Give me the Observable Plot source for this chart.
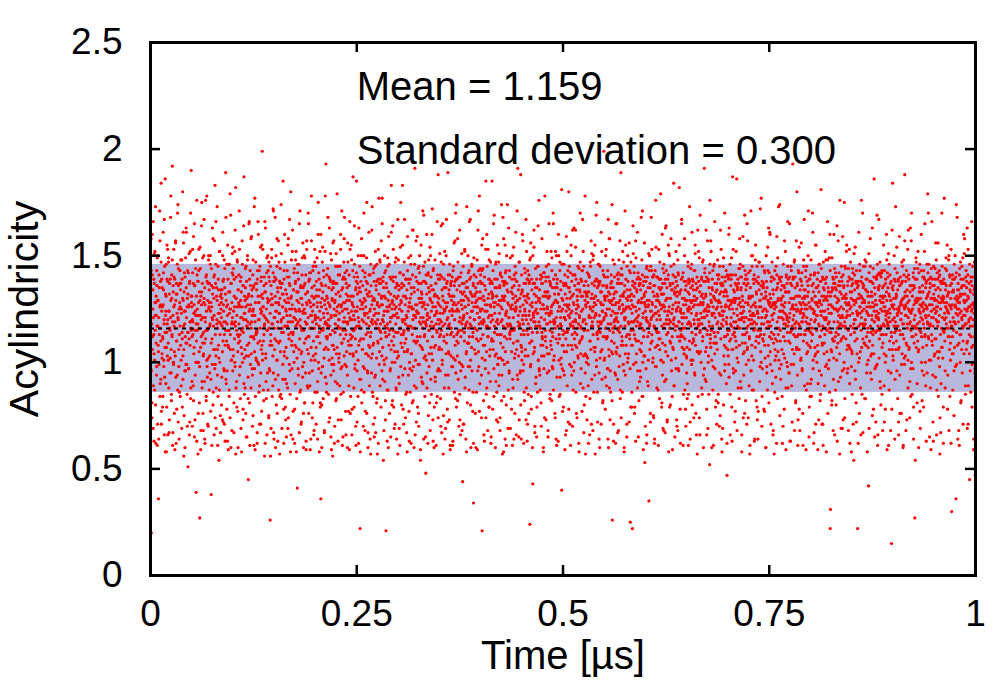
<!DOCTYPE html>
<html><head><meta charset="utf-8">
<script src="https://cdn.jsdelivr.net/npm/d3@7"></script>
<script src="https://cdn.jsdelivr.net/npm/@observablehq/plot@0.6"></script>
<style>body{margin:0;background:#fff}</style>
</head><body><div id="chart"></div>
<script>
// Acylindricity samples (x100), two interleaved runs read across the picture in time order
const runARaw = `
132 97 158 20 118 74 141 106 125 166 89 113 63 137 101 152 122 80 128 109
94 143 117 61 129 150 108 36 121 99 135 171 84 116 127 92 147 71 139 104
126 79 111 161 134 98 118 66 145 107 186 122 90 131 58 114 155 103 138 120
109 149 88 124 73 137 115 102 168 129 95 82 141 112 192 119 67 133 100 153
140 105 127 59 116 157 93 132 110 78 123 146 87 174 120 136 98 64 113 128
117 84 134 148 101 125 69 139 111 180 92 129 156 106 75 142 118 60 124 96
99 163 121 109 85 130 143 51 114 126 97 151 137 72 108 119 170 88 131 115
131 112 70 142 119 89 159 104 127 65 136 115 94 148 122 39 110 176 100 125
122 57 138 100 153 116 81 27 129 144 107 68 120 164 133 91 113 149 76 103
104 128 167 91 135 62 119 111 140 82 124 178 98 115 71 137 102 150 126 87
137 95 118 150 77 128 109 144 61 121 99 132 158 86 117 130 66 141 106 183
113 146 103 69 131 120 173 94 116 84 139 108 54 127 152 100 123 75 134 118
128 80 130 117 105 161 138 72 124 97 148 113 135 63 119 189 92 129 110 78
96 122 155 108 59 133 115 87 146 125 74 106 169 137 101 118 68 142 121 154
141 103 124 67 139 111 152 98 119 182 88 130 115 79 126 147 105 60 134 112
118 171 94 126 113 83 129 140 107 58 121 157 100 136 73 114 164 90 123 131
106 129 144 76 120 103 138 65 117 150 127 93 45 132 109 166 81 125 143 99
127 88 116 159 131 97 70 124 148 112 135 61 122 105 177 119 84 137 102 114
134 114 62 139 100 166 120 128 86 143 71 110 131 154 95 123 140 77 108 199
101 153 126 110 82 136 117 56 133 121 163 104 91 125 142 66 115 130 150 87
119 75 140 97 129 108 26 145 113 69 132 149 118 84 127 103 172 95 138 64
138 106 121 168 92 124 139 80 110 158 101 135 63 116 128 87 147 123 57 130
110 137 85 119 151 114 69 132 126 99 185 121 78 143 105 160 117 92 134 73
124 65 132 102 140 88 155 119 74 128 111 137 167 96 122 58 130 114 148 108
97 127 162 113 77 134 121 100 144 62 125 90 138 117 152 107 83 129 41 142
133 119 94 146 125 67 111 171 120 87 136 104 72 130 115 149 98 124 135 60
115 150 109 81 137 123 95 141 59 118 157 127 106 133 88 121 165 76 112 139
142 89 128 122 64 107 178 116 131 96 124 81 145 110 127 68 136 153 101 120
104 131 71 138 112 149 126 91 121 175 100 142 117 58 134 109 79 128 160 95
126 60 136 98 154 115 83 123 140 106 67 129 152 93 119 193 112 86 131 118
112 144 117 128 85 135 101 163 74 126 113 138 65 121 148 99 130 108 56 137
135 96 157 106 122 70 129 118 137 82 151 104 124 179 90 116 63 141 120 102
120 123 89 145 113 160 97 73 127 134 109 61 139 115 86 128 147 103 168 125
99 139 115 66 132 105 143 125 94 156 119 131 77 108 136 59 121 153 113 84
131 108 148 120 78 127 115 187 103 122 88 140 164 97 124 111 70 135 105 142
117 72 126 137 101 150 62 119 133 110 145 22 125 92 138 116 158 81 128 106
143 125 98 111 170 86 123 140 68 129 104 134 118 149 76 132 96 114 60 121
108 161 133 89 124 141 112 57 136 119 95 127 173 104 118 84 142 109 130 65
125 93 119 152 67 116 134 102 146 83 128 110 139 62 123 177 99 137 115 147
139 114 79 127 130 96 165 120 107 138 54 122 101 131 150 91 117 73 143 112
102 135 124 63 118 145 87 129 159 113 126 76 140 119 97 132 106 183 121 80
128 82 140 115 153 108 127 69 122 100 147 135 114 88 126 64 137 121 105 167
114 148 103 134 90 125 61 142 116 175 109 128 80 137 120 155 94 113 131 71
136 105 167 97 127 74 139 111 130 86 121 58 143 106 124 115 149 77 128 100
97 130 117 146 62 132 104 125 81 141 116 162 98 122 135 89 110 191 66 127
121 157 88 124 138 112 79 134 99 123 70 145 119 150 108 130 59 118 137 93
130 91 126 106 171 119 145 64 127 112 138 84 103 125 48 141 117 160 95 122
110 127 142 75 115 98 133 121 154 68 129 107 140 85 119 134 172 101 126 63
144 116 60 131 122 148 91 108 137 118 81 124 114 166 96 128 74 139 106 127
107 139 120 96 83 126 164 115 67 140 101 131 123 57 146 112 135 88 152 118
125 69 135 150 109 137 113 78 128 189 94 117 132 104 73 124 141 61 116 136
116 129 98 122 140 61 124 143 102 131 156 86 120 138 108 170 95 127 79 113
134 103 158 114 92 128 70 119 136 85 121 140 66 112 129 99 151 118 137 44
98 145 121 71 133 110 152 126 93 117 64 135 105 173 123 81 130 109 142 116
129 87 112 139 118 167 101 60 132 124 146 96 131 77 114 137 62 149 120 106
120 132 76 128 104 140 86 133 115 59 126 162 110 143 98 121 178 90 125 138
141 111 137 94 155 21 125 118 144 108 82 129 119 63 136 101 127 153 74 117
105 160 124 117 68 130 112 139 79 148 122 103 137 91 126 119 65 133 111 185
132 78 143 106 128 97 169 114 123 135 60 116 147 104 131 86 139 120 99 72
118 127 89 151 113 136 74 141 102 119 129 174 94 125 57 138 107 130 158 84
137 99 131 64 142 116 123 80 150 111 134 100 128 69 117 163 121 96 140 113
111 149 115 125 83 105 139 127 61 132 88 121 154 115 136 102 76 145 124 131
126 66 138 110 171 129 92 119 134 103 147 73 117 130 95 126 188 108 64 141
101 134 120 157 96 118 62 137 113 82 125 142 106 122 167 88 131 115 139 71
143 113 85 130 122 138 109 24 127 149 99 116 78 139 110 128 60 150 104 123
119 162 105 137 70 124 144 117 93 131 65 135 114 86 123 145 101 129 176 97
130 94 128 116 141 81 121 103 158 112 137 108 127 58 142 97 125 74 133 115
112 138 73 145 107 133 95 125 118 68 140 123 165 104 131 83 119 137 110 152
123 106 149 98 127 112 170 87 139 120 103 132 76 116 152 129 64 121 135 93
135 128 117 63 132 150 101 126 111 143 85 118 134 99 124 40 146 108 77 129
108 79 136 121 94 127 141 114 66 137 124 159 105 130 89 115 140 72 122 180
127 145 99 133 118 61 123 155 108 94 131 113 70 141 117 128 96 163 111 136
114 120 162 86 139 125 107 74 129 116 145 102 126 137 58 122 134 110 147 90
139 97 124 111 77 143 131 119 152 103 67 136 115 120 178 95 127 84 118 132
103 131 142 128 115 89 62 133 121 140 110 83 147 125 106 130 71 151 137 117
124 68 113 150 130 107 136 94 138 57 122 127 169 101 139 114 86 119 129 146
117 146 95 122 60 138 114 128 105 161 133 119 92 124 81 143 112 136 199 101
131 102 130 78 123 116 153 111 135 125 97 143 64 118 133 106 158 88 115 73
96 135 118 141 105 129 82 26 124 148 114 71 130 109 140 120 95 127 62 165
128 121 165 107 137 92 119 142 68 116 125 137 103 157 87 131 117 74 144 112
110 86 127 132 99 147 124 60 133 120 171 94 121 139 108 126 65 134 113 150
138 126 104 118 156 113 131 97 142 79 115 129 108 86 123 22 136 119 151 99
119 142 76 135 111 126 63 149 117 104 134 121 161 96 128 140 110 82 125 137
106 118 137 93 128 168 109 130 84 141 100 123 59 138 115 132 156 103 127 70
133 97 121 144 66 119 140 112 126 89 151 35 129 117 106 135 72 145 120 124
121 153 110 127 140 102 75 136 117 131 62 116 143 107 176 123 98 129 88 114
140 108 129 61 114 135 122 83 147 111 127 139 101 132 79 117 160 94 137 126
100 132 146 118 91 124 67 139 105 164 120 113 135 72 130 103 124 141 58 151
126 79 116 137 130 109 158 123 96 134 84 125 107 141 118 184 89 121 132 65
115 140 102 152 124 73 131 117 136 68 142 97 128 119 155 110 133 78 112 125
134 123 167 99 118 140 112 61 127 121 106 138 150 87 116 129 70 136 103 95
107 90 125 133 145 85 137 126 110 173 129 64 118 135 101 123 146 114 80 139
129 138 111 74 120 131 95 143 155 108 76 122 134 116 130 57 127 162 105 117
118 104 149 127 66 115 136 123 100 131 140 118 85 147 112 128 94 138 121 191
142 116 92 138 131 162 107 78 122 113 126 69 139 103 124 135 117 52 146 109
111 157 129 115 101 123 139 134 87 126 61 145 114 130 166 97 121 109 133 82
125 71 134 106 148 119 85 128 141 116 95 132 122 75 137 111 153 126 64 140
137 122 117 145 80 133 124 108 170 99 138 112 127 143 90 118 62 131 115 106
103 139 160 93 125 110 141 66 118 136 121 149 79 106 129 187 113 97 134 123
130 114 72 129 137 96 119 152 107 125 68 134 117 139 100 127 144 83 120 158
116 146 123 134 88 140 58 121 131 113 159 104 126 94 137 121 76 143 109 128
141 99 136 114 165 106 128 117 74 142 130 89 111 124 61 135 118 171 96 120
108 131 87 150 122 127 101 137 119 63 116 139 107 155 126 82 132 112 145 73
123 64 140 121 109 134 147 91 129 115 105 126 177 118 70 138 97 124 136 110
135 118 113 77 142 102 125 133 60 150 122 98 135 87 119 143 108 163 81 127
112 161 128 105 130 71 138 114 126 96 140 120 66 132 109 123 57 127 143 101
128 93 145 126 116 159 110 83 137 129 113 173 101 121 139 75 124 115 92 134
99 127 106 136 62 124 131 146 104 118 78 135 123 110 152 133 88 140 117 121
137 114 166 88 133 119 95 128 121 140 109 63 130 145 99 115 136 72 126 193
120 140 99 122 147 68 118 135 112 81 127 157 106 124 137 94 61 131 113 142
106 78 131 117 124 139 113 102 156 125 136 97 119 76 128 110 145 122 167 89
131 125 115 143 59 127 104 121 138 90 118 150 133 108 65 139 116 126 84 107
114 148 84 110 130 116 170 125 97 133 62 123 141 119 103 128 155 71 135 122
127 100 139 128 105 90 136 73 146 117 129 112 82 138 124 181 94 115 131 108
140 117 61 135 121 131 109 124 113 152 98 137 120 58 140 105 129 148 76 118
97 133 123 149 86 114 143 31 127 106 123 80 149 126 111 134 68 139 102 160
125 66 137 112 142 125 80 134 101 164 116 130 109 136 91 122 142 117 57 133
118 121 110 69 132 140 122 96 159 117 73 125 135 100 175 119 83 130 144 111
132 152 127 124 95 108 138 115 68 128 140 107 122 62 133 147 113 126 98 136
104 85 144 137 116 129 54 127 120 141 110 154 92 128 116 72 137 104 123 22
123 138 100 161 130 76 126 143 105 118 66 131 121 140 85 128 170 111 135 117
136 109 129 83 145 118 134 108 147 124 95 139 58 114 131 107 122 151 69 126
110 126 158 117 103 138 92 122 131 75 128 113 144 126 104 186 119 65 132 140
129 72 121 140 124 99 146 61 117 135 120 167 102 136 115 91 141 125 80 113
117 142 107 131 68 130 113 155 126 89 143 117 124 78 139 122 103 133 148 59
142 118 135 96 151 121 87 131 110 123 137 68 129 114 15 127 162 106 120 134
101 130 117 125 139 64 144 119 173 106 115 131 96 142 122 83 117 138 72 124
126 159 94 136 113 127 120 76 137 129 104 145 118 130 61 148 111 126 99 188
133 103 127 68 122 140 108 134 116 153 88 121 141 106 129 118 74 133 163 97
115 124 170 112 85 131 125 97 142 64 127 109 135 27 122 139 116 149 107 128
139 90 118 144 129 105 60 125 133 119 146 77 123 130 114 160 100 127 82 136
107 133 124 79 140 116 152 112 127 100 135 121 63 138 126 95 131 118 142 170
122 146 101 127 117 135 88 140 59 124 113 166 130 108 136 72 121 145 125 103
130 111 139 93 156 120 126 66 129 142 105 117 135 84 119 128 143 98 57 138
113 67 128 130 107 138 145 121 102 131 79 139 115 177 123 110 88 134 126 149
136 128 116 155 124 94 112 133 148 68 127 106 140 119 101 130 62 125 137 117
104 141 87 121 133 115 75 139 119 126 150 98 126 36 142 114 129 168 108 122
128 119 134 109 61 144 123 100 131 113 82 135 121 145 95 132 117 71 139 160
117 136 158 125 118 85 129 143 106 138 124 69 110 131 153 89 126 120 104 45
134 96 121 140 112 127 166 79 125 117 140 108 132 64 123 147 135 97 118 129
`;
const runBRaw = `
27 118 143 96 125 81 160 112 134 69 121 139 104 151 87 128 115 173 62 131
122 98 136 149 71 117 129 105 64 141 113 126 157 90 138 110 184 77 124 102
135 112 84 127 142 101 120 167 93 114 58 132 124 146 107 79 139 118 153 66
101 147 124 67 132 116 95 139 121 178 106 85 130 113 148 61 122 136 99 126
117 76 139 119 103 156 129 62 137 110 132 94 170 121 72 144 106 125 86 137
143 126 108 137 89 123 148 114 79 130 103 161 117 56 133 124 96 140 112 149
109 135 161 99 126 70 114 132 142 97 127 111 66 138 119 152 83 116 190 128
126 91 120 153 113 137 82 123 107 165 136 73 124 144 100 118 131 63 141 115
138 118 76 128 143 105 133 98 154 122 59 131 112 127 175 88 137 109 121 68
114 150 130 109 64 127 121 176 115 84 141 101 138 93 129 116 70 148 125 134
128 103 117 146 124 92 38 136 126 111 163 120 80 135 106 140 122 157 97 74
99 137 166 88 135 118 129 106 61 145 123 134 102 119 87 152 113 131 67 125
132 121 93 134 73 150 110 127 139 119 96 71 144 108 132 115 168 90 126 146
118 63 127 139 115 107 146 84 123 133 179 113 125 60 137 101 128 119 151 96
106 144 118 81 131 126 100 162 117 57 130 140 91 122 148 113 77 134 109 128
141 127 153 110 98 138 121 69 133 115 104 126 146 116 78 136 120 187 102 85
123 88 135 126 145 65 117 130 108 148 119 83 131 103 165 124 139 61 118 136
112 158 104 119 134 122 94 141 75 125 136 111 173 97 122 59 128 147 113 101
137 115 67 143 109 131 160 99 128 120 89 145 116 125 71 138 106 124 155 132
104 130 126 87 122 113 140 118 166 62 133 102 137 83 120 149 115 95 128 143
129 74 147 116 138 96 123 56 110 136 127 153 108 130 118 89 142 171 67 121
116 140 111 131 60 128 150 124 101 145 76 119 133 94 157 109 127 123 138 84
144 105 135 174 120 83 116 137 126 92 132 114 62 139 103 129 147 117 79 125
107 128 90 122 143 117 69 130 158 113 140 99 125 136 85 119 180 66 131 110
125 152 119 64 114 134 105 142 121 78 108 137 148 120 124 58 133 102 118 146
133 97 139 128 106 165 124 86 117 135 130 71 116 105 141 127 93 156 123 76
100 136 125 81 149 119 132 111 63 128 153 118 89 133 112 170 104 138 129 95
139 116 59 142 126 101 157 122 135 74 119 143 103 127 66 130 116 147 86 122
121 145 107 118 134 86 128 64 112 160 131 97 139 114 124 152 81 120 36 137
115 80 130 147 98 133 116 143 121 102 68 127 118 178 136 107 125 90 141 111
130 123 168 106 120 72 140 117 127 139 113 151 94 122 59 134 102 129 115 156
108 138 99 125 62 128 114 91 145 122 132 83 137 107 126 145 117 73 133 100
127 104 141 131 116 153 85 126 109 171 98 124 135 65 119 140 111 158 121 128
142 119 77 113 137 98 129 135 60 118 147 110 123 89 141 129 166 104 76 120
111 155 124 66 128 112 143 104 131 126 115 79 146 120 99 116 134 61 138 185
124 96 132 140 84 121 108 163 117 135 92 129 58 133 111 150 87 127 120 106
136 128 70 119 150 130 97 122 142 77 126 113 138 104 175 123 137 95 67 131
103 141 117 133 107 64 125 146 114 102 131 162 120 86 129 108 71 144 122 138
129 74 145 94 123 136 118 81 138 127 57 120 109 153 116 132 126 105 148 89
118 137 111 157 131 103 177 127 92 140 119 135 68 124 99 142 114 82 130 21
137 112 126 87 116 149 124 60 133 108 146 115 127 96 121 65 139 161 110 125
100 129 164 122 138 79 112 131 105 125 71 140 118 149 87 130 123 102 136 57
131 121 93 136 69 127 142 116 154 98 129 113 135 124 107 183 119 78 141 114
115 147 120 109 131 118 85 139 122 67 134 105 159 117 139 94 126 137 63 128
126 86 139 150 104 135 126 96 113 162 120 82 125 110 60 133 146 116 122 101
140 109 72 124 127 159 110 123 144 76 137 130 99 142 128 112 54 121 155 133
107 132 128 116 90 121 138 169 102 128 113 147 119 65 118 137 101 132 88 120
123 62 141 135 148 104 115 81 130 117 150 92 136 124 104 160 128 112 73 143
134 117 107 79 122 132 93 126 137 61 123 115 131 84 141 120 188 97 130 118
112 151 123 141 113 70 147 119 106 134 99 165 117 129 75 125 110 139 124 64
128 94 135 104 167 126 120 138 72 121 141 105 88 134 118 146 131 59 113 137
103 138 114 125 131 98 63 127 145 112 128 136 120 157 101 83 124 139 174 110
139 125 82 147 109 140 124 115 100 162 73 119 133 96 142 127 115 68 125 132
120 71 129 122 137 114 153 88 126 131 118 104 58 138 119 109 135 150 98 127
109 143 166 98 121 133 80 140 117 107 145 128 124 112 86 136 34 126 141 116
131 116 104 135 60 126 111 129 148 123 96 137 171 105 130 118 77 121 133 144
124 130 119 74 143 102 137 158 113 131 120 66 129 140 108 124 97 134 185 85
116 88 145 127 112 153 121 95 132 79 139 116 106 127 147 62 138 110 122 130
137 120 131 110 165 84 126 117 139 103 128 146 91 119 73 135 113 155 127 99
102 147 94 129 123 135 68 142 109 126 113 82 140 120 131 101 168 117 58 136
129 112 138 155 105 122 143 61 124 137 118 174 100 133 87 127 121 95 143 114
118 69 126 117 133 78 115 135 150 92 130 109 125 64 141 116 139 104 128 161
142 125 106 138 94 129 191 110 122 117 65 136 147 118 124 96 80 132 113 107
105 133 160 122 127 115 99 131 86 144 124 103 129 137 73 120 152 128 63 139
132 103 118 76 141 137 124 148 116 98 156 120 84 110 134 126 114 43 137 122
121 154 132 107 67 119 135 90 128 125 139 79 123 145 117 164 101 130 119 96
134 117 87 139 125 108 70 137 114 140 111 127 131 60 125 103 142 120 178 131
110 140 123 131 118 152 126 104 133 65 130 146 96 122 138 115 85 136 108 124
126 82 143 114 135 97 119 165 101 128 118 135 119 74 141 129 111 150 61 137
139 128 109 124 160 132 113 84 126 147 93 121 138 102 117 181 130 97 125 115
113 96 137 146 105 121 59 132 120 111 136 68 127 152 114 126 143 108 135 78
125 135 121 71 130 142 117 150 98 138 124 106 162 119 87 132 116 127 100 141
141 108 154 119 123 76 134 113 131 127 103 137 118 62 144 109 121 133 170 117
104 131 116 138 143 112 167 125 88 120 145 115 80 133 129 104 57 138 126 100
131 73 133 102 128 136 99 141 122 140 66 126 110 145 121 157 117 92 132 119
117 148 126 130 86 121 128 105 155 107 131 123 139 98 175 113 135 72 111 138
136 115 64 137 119 102 145 133 118 71 127 152 106 124 136 82 127 141 120 121
112 140 129 93 150 116 122 89 136 131 112 140 97 167 60 129 103 125 158 132
128 86 137 122 110 138 174 127 104 116 135 63 132 119 146 117 123 133 94 105
120 133 104 141 123 67 115 139 128 148 98 126 114 129 83 141 189 108 123 137
141 127 152 108 131 125 96 58 121 136 117 104 155 125 112 130 71 145 100 129
102 119 131 126 72 143 111 134 25 125 147 119 132 79 127 108 138 164 115 126
131 145 113 79 137 120 157 100 124 110 133 139 88 119 142 65 122 129 136 91
117 96 139 134 118 105 128 148 116 171 84 121 136 112 103 131 128 53 140 124
126 138 120 62 145 129 91 119 135 101 127 114 143 150 118 137 76 124 109 168
143 113 128 140 100 133 122 74 141 117 64 136 123 98 126 154 115 140 120 132
108 131 87 124 153 111 139 128 106 134 120 179 101 125 135 81 132 109 144 69
127 68 142 116 126 137 108 163 129 92 143 118 130 73 122 139 114 155 124 118
120 150 110 136 80 119 145 101 123 134 112 59 137 127 106 120 146 89 133 140
135 117 128 97 138 125 70 133 112 148 126 141 96 119 182 132 110 124 62 115
113 139 165 121 107 130 116 142 85 123 104 130 158 111 134 78 127 138 121 102
129 83 118 147 124 61 139 119 132 106 138 72 125 144 117 128 99 161 109 136
101 126 134 110 143 118 127 94 151 129 113 137 66 123 140 105 135 120 84 152
138 120 74 133 114 169 105 128 118 139 88 121 132 110 127 148 60 130 124 97
121 144 125 105 132 91 140 66 124 115 157 127 100 138 85 119 126 142 176 113
132 107 152 128 60 135 122 117 143 98 131 109 123 146 104 137 112 79 129 125
109 137 118 141 126 114 81 139 129 123 70 145 116 128 162 94 133 118 136 58
124 69 136 120 149 103 131 112 96 140 126 134 107 119 133 121 47 141 113 129
140 126 99 163 115 129 146 85 127 111 139 117 128 63 141 125 106 153 95 119
116 133 128 112 77 141 110 130 136 186 102 122 135 116 88 137 120 130 108 144
128 91 140 126 135 120 66 123 109 129 145 74 124 137 119 105 169 113 139 82
134 121 116 71 139 107 157 137 127 101 120 131 112 57 130 143 122 96 126 150
103 145 131 118 123 139 87 115 141 122 64 128 148 126 110 133 118 138 79 124
123 115 77 137 147 112 126 129 98 172 113 136 100 132 121 84 145 111 135 130
137 78 125 143 108 130 121 60 131 116 138 95 124 119 154 129 103 128 117 142
119 132 160 99 126 117 140 111 122 147 90 127 134 68 128 113 139 125 86 106
111 128 103 134 62 141 119 135 149 105 130 121 116 140 97 174 124 110 138 129
130 140 121 84 127 124 70 120 112 136 126 157 102 128 118 133 59 141 122 100
120 98 145 117 139 110 133 95 165 123 63 114 137 125 143 89 130 117 106 127
139 125 113 130 104 148 125 140 116 82 131 119 107 180 112 136 125 73 143 118
106 154 128 68 134 123 101 127 138 119 142 96 130 121 61 123 148 134 113 130
127 113 134 140 119 87 145 109 125 131 105 136 171 115 128 79 118 139 126 90
141 120 92 125 136 129 113 161 101 137 123 67 124 142 107 131 120 104 155 128
115 135 122 108 59 142 126 118 133 96 146 128 112 85 138 122 144 127 71 109
124 71 139 147 129 104 134 89 120 139 116 130 148 121 99 115 131 166 125 135
133 127 101 119 116 160 22 131 123 114 133 105 82 135 126 140 110 92 137 119
110 144 131 135 87 125 114 140 107 128 63 124 119 157 113 129 125 138 104 176
136 93 118 126 145 111 138 69 130 121 141 112 136 97 131 74 145 117 128 116
121 130 155 106 122 136 97 127 144 108 127 153 90 125 139 117 106 130 58 133
105 139 123 142 71 129 118 151 114 134 96 120 129 138 81 143 124 111 135 122
130 62 136 117 132 102 146 123 126 88 138 115 176 107 124 130 137 67 118 145
125 117 109 128 148 120 83 134 139 112 126 99 123 133 116 101 42 128 142 110
138 131 145 95 114 126 133 104 120 163 108 137 115 78 140 124 119 135 97 127
114 98 122 139 127 169 115 141 66 121 134 123 142 111 129 147 131 88 116 140
128 143 85 124 135 109 128 118 136 104 72 131 126 100 137 120 113 160 129 123
119 124 140 117 61 132 146 106 125 141 119 129 95 138 112 78 135 126 184 103
136 109 127 150 121 114 92 138 130 117 132 110 154 125 123 134 106 139 66 125
107 136 115 76 140 128 120 123 99 147 127 138 113 60 130 118 141 102 125 157
131 122 138 126 109 143 73 131 118 128 101 162 125 139 107 124 91 136 119 84
123 157 100 136 125 117 134 112 140 79 136 120 144 117 129 54 128 113 147 130
116 81 129 110 152 130 106 142 124 135 115 127 69 133 121 143 112 126 96 120
140 128 118 143 94 125 139 165 113 122 89 137 130 108 146 125 119 179 132 112
111 139 133 65 127 137 118 101 130 144 121 110 127 139 94 117 63 132 125 136
129 104 144 123 134 111 148 124 87 119 139 126 156 102 131 140 122 105 141 74
134 125 90 137 116 170 107 129 137 115 62 130 114 128 120 137 96 144 126 121
118 143 125 131 78 124 132 116 123 150 112 141 84 136 109 126 153 117 30 133
127 112 139 104 134 119 96 146 107 130 127 118 140 123 174 99 131 125 134 64
137 130 68 125 141 128 113 132 147 81 139 124 106 120 136 116 149 110 122 129
104 151 128 132 122 89 140 118 129 135 109 163 125 141 71 130 119 137 113 146
126 117 133 86 138 124 107 136 99 127 145 120 128 59 134 112 126 95 47 140
`;
const parseRun = raw => raw.trim().split(/\s+/).map(v => +v / 100);
const runA = parseRun(runARaw);
const runB = parseRun(runBRaw);

// time axis: each run spans 0 .. 1 µs in order
const timeStart = 0;
const timeEnd = 1;
const toSamples = run => run.map((a, i) => ({
  time: timeStart + (timeEnd - timeStart) * i / (run.length - 1),
  a
}));
const samples = toSamples(runA).concat(toSamples(runB));

const meanValue = 1.159;
const stdValue = 0.300;
const band = [{t1: timeStart, t2: timeEnd, lo: meanValue - stdValue, hi: meanValue + stdValue}];

const xTicks = [0, 0.25, 0.5, 0.75, 1];
const yTicks = [0, 0.5, 1, 1.5, 2, 2.5];
const annotationTexts = [`Mean = ${meanValue.toFixed(3)}`, `Standard deviation = ${stdValue.toFixed(3)}`];
const annotationTime = [0.25, 0.25];
const annotationLevel = [2.29, 1.99];
const annotations = annotationTexts.map((text, i) => ({text, t: annotationTime[i], y: annotationLevel[i]}));
const xLabel = "Time [µs]";
const yLabel = "Acylindricity";

const W = 1000, H = 700, mL = 150, mR = 25, mT = 42, mB = 125;
const innerW = W - mL - mR, innerH = H - mT - mB, tickLen = 10;
const font = "'Liberation Sans', Arial, Helvetica, sans-serif";
const tickStyle = {stroke: "black", strokeWidth: 2.5};
const fmt = d => `${d}`;

const chart = Plot.plot({
  width: W,
  height: H,
  marginLeft: mL,
  marginRight: mR,
  marginTop: mT,
  marginBottom: mB,
  style: {fontFamily: font, fontSize: "37px", color: "black", background: "white"},
  x: {domain: [0, 1]},
  y: {domain: [0, 2.5]},
  marks: [
    Plot.rect(band, {x1: "t1", x2: "t2", y1: "lo", y2: "hi", fill: "#b8b8dc"}),
    Plot.dot(samples, {x: "time", y: "a", r: 1.6, fill: "#ff0000", stroke: null}),
    Plot.ruleY([meanValue], {stroke: "black", strokeWidth: 2, strokeDasharray: "4,4"}),
    Plot.text(annotations, {x: "t", y: "y", text: "text", textAnchor: "start", lineAnchor: "middle", fontSize: 40, fill: "black"}),
    Plot.axisX({anchor: "bottom", ticks: xTicks, tickSize: 0, tickPadding: 24, tickFormat: fmt, fontSize: 37, label: null}),
    Plot.axisY({anchor: "left", ticks: yTicks, tickSize: 0, tickPadding: 28, tickFormat: fmt, fontSize: 37, label: null}),
    Plot.tickX(xTicks, {x: d => d, insetBottom: innerH - tickLen, ...tickStyle}),
    Plot.tickX(xTicks, {x: d => d, insetTop: innerH - tickLen, ...tickStyle}),
    Plot.tickY(yTicks, {y: d => d, insetRight: innerW - tickLen, ...tickStyle}),
    Plot.tickY(yTicks, {y: d => d, insetLeft: innerW - tickLen, ...tickStyle}),
    Plot.text([yLabel], {frameAnchor: "left", rotate: -90, dx: -126, textAnchor: "middle", lineAnchor: "middle", fontSize: 41, fill: "black"}),
    Plot.text([xLabel], {frameAnchor: "bottom", dy: 81, textAnchor: "middle", lineAnchor: "middle", fontSize: 40, fill: "black"}),
    Plot.frame({stroke: "black", strokeWidth: 3})
  ]
});
document.getElementById("chart").appendChild(chart);
</script>
</body></html>
